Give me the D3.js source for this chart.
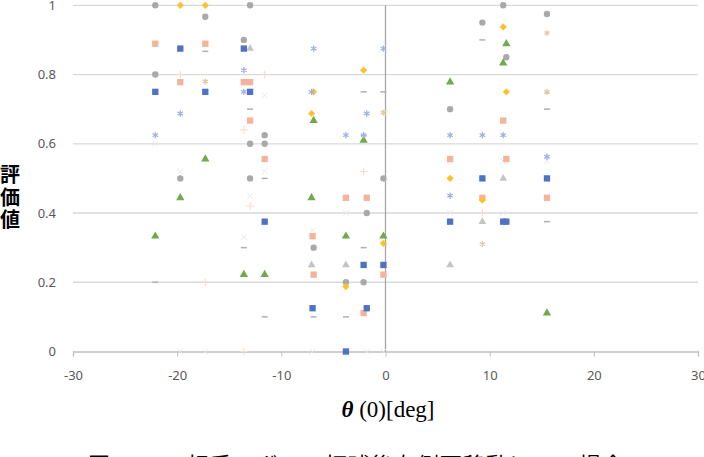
<!DOCTYPE html>
<html lang="ja">
<head>
<meta charset="utf-8">
<title>評価値 scatter</title>
<script src="https://cdn.jsdelivr.net/npm/d3@7"></script>
<style>
  body { margin: 0; background: #fff; overflow: hidden; }
  .tick text { font-family: "Noto Sans", "DejaVu Sans", sans-serif; font-size: 13px; fill: #595959; }
  .ylab { font-family: "Noto Sans CJK JP", sans-serif; font-size: 20px; font-weight: bold; fill: #000; }
  .xlab { font-family: "Liberation Serif", serif; font-size: 23px; fill: #000; }
  .cap { font-family: "Noto Sans CJK JP", sans-serif; font-size: 22px; fill: #000; letter-spacing: 1px; }
</style>
</head>
<body>
<script>
// data: [theta, value] per series
var blueSquares = [[-22.1,0.75],[-19.7,0.875],[-17.3,0.75],[-13.6,0.875],[-13.0,0.75],[-11.6,0.375],
  [-7.0,0.125],[-3.8,0],[-2.1,0.25],[-1.8,0.125],[-0.2,0.25],[6.2,0.375],[9.3,0.5],[11.3,0.375],[11.6,0.375],[15.5,0.5]];
var salmonSquares = [[-22.1,0.889],[-19.7,0.778],[-17.3,0.889],[-13.6,0.778],[-13.0,0.778],[-13.0,0.667],
  [-11.6,0.556],[-7.0,0.333],[-6.9,0.222],[-3.8,0.444],[-1.8,0.444],[-2.1,0.111],[-0.2,0.222],
  [6.2,0.556],[9.3,0.444],[11.3,0.667],[11.6,0.556],[15.5,0.444]];
var grayCircles = [[-22.1,1.0],[-22.1,0.8],[-17.3,0.967],[-19.7,0.5],[-13.0,1.0],[-13.6,0.9],[-13.0,0.6],
  [-11.6,0.6],[-11.6,0.625],[-13.0,0.5],[-6.9,0.3],[-3.8,0.2],[-2.1,0.2],[-1.8,0.4],[-0.2,0.5],
  [6.2,0.7],[9.3,0.95],[11.3,1.0],[11.6,0.85],[15.5,0.975]];
var goldDiamonds = [[-19.7,1.0],[-17.3,1.0],[-2.1,0.8125],[-7.1,0.6875],[-6.9,0.75],[-0.2,0.3125],
  [-3.8,0.1875],[6.2,0.5],[9.3,0.4375],[11.3,0.9375],[11.6,0.75]];
var blueStars = [[-19.7,0.6875],[-22.1,0.625],[-13.6,0.8125],[-13.6,0.75],[-6.9,0.875],[-0.2,0.875],
  [-7.1,0.75],[-1.8,0.6875],[-3.8,0.625],[-2.1,0.625],[6.2,0.625],[9.3,0.625],[11.3,0.625],[15.5,0.5625],[6.2,0.45]];
var greenTriangles = [[-17.3,0.556],[-19.7,0.444],[-22.1,0.333],[-6.9,0.667],[-2.1,0.61],[-7.1,0.444],
  [-3.8,0.333],[-0.2,0.333],[-13.6,0.222],[-11.6,0.222],[6.2,0.778],[11.6,0.889],[11.3,0.833],[15.5,0.111]];
var grayDashes = [[-17.3,0.867],[-22.1,0.2],[-13.0,0.7],[-11.6,0.5],[-2.1,0.75],[-0.2,0.75],[9.3,0.9],
  [15.5,0.7],[-13.6,0.3],[-2.1,0.3],[-11.6,0.1],[-6.9,0.1],[-3.8,0.1],[15.5,0.375],[-2.1,0.625]];
var grayTriangles = [[-7.1,0.25],[-3.8,0.25],[6.2,0.25],[-13.0,0.875],[11.3,0.5],[9.3,0.375]];
var tanStars = [[15.5,0.75],[-17.3,0.78],[9.3,0.31],[15.5,0.92],[-0.2,0.69]];
var faintPlus = [[-19.7,0.8],[-17.3,0.2],[-11.6,0.8],[-13.6,0.64],[-2.1,0.52],[9.3,0.4],[-13.6,0],[-13.0,0.42]];
var faintX = [[-22.1,0.6],[-19.7,0.52],[-11.6,0.52],[-13.0,0.45],[-13.6,0.33],[-7.0,0.35],[-3.8,0.4],
  [6.2,0.4],[11.3,0.4],[6.2,0.55],[11.3,0.55],[15.5,0.55],[-7.0,0],[-1.8,0],[-0.2,0],[-19.7,0],[-17.3,0],[-11.6,0.74]];

var xTicks = [-30,-20,-10,0,10,20,30];
var yTicks = [0,0.2,0.4,0.6,0.8,1];

var w = 704, h = 457;
var plotLeft = 73, plotRight = 698, plotTop = 5.3, plotBottom = 351.5;

var svg = d3.select("body").append("svg").attr("width", w).attr("height", h);

var x = d3.scaleLinear().domain([-30,30]).range([plotLeft,plotRight]);
var y = d3.scaleLinear().domain([0,1]).range([plotBottom,plotTop]);

// gridlines
svg.append("g").selectAll("line").data(yTicks.filter(function(d){return d>0;})).enter().append("line")
  .attr("x1", plotLeft).attr("x2", plotRight)
  .attr("y1", function(d){return y(d);}).attr("y2", function(d){return y(d);})
  .style("stroke","#d9d9d9").style("stroke-width",1.3);

// y axis (labels only)
var yAxis = svg.append("g").attr("transform","translate(" + plotLeft + ",0)")
  .call(d3.axisLeft(y).tickValues(yTicks).tickSize(0).tickPadding(17)
    .tickFormat(function(d){return String(+d.toFixed(1));}));
yAxis.select(".domain").remove();

// x axis at y=0
var xAxis = svg.append("g").attr("transform","translate(0," + plotBottom + ")")
  .call(d3.axisBottom(x).tickValues(xTicks).tickSize(5).tickPadding(14)
    .tickFormat(function(d){return String(d);}));
xAxis.select(".domain").style("stroke","#bfbfbf").style("stroke-width",1.3);
xAxis.selectAll(".tick line").style("stroke","#bfbfbf");

// vertical axis at theta = 0
svg.append("line").attr("x1", x(0)).attr("x2", x(0)).attr("y1", plotTop).attr("y2", plotBottom)
  .style("stroke","#a6a6a6").style("stroke-width",1.3);

// symbols
var dashType = { draw: function(ctx, size) { var r = Math.sqrt(size) * 0.6; ctx.moveTo(-r, 0); ctx.lineTo(r, 0); } };
var rhombType = { draw: function(ctx, size) { var r = Math.sqrt(size) * 0.72; ctx.moveTo(0,-r); ctx.lineTo(r,0); ctx.lineTo(0,r); ctx.lineTo(-r,0); ctx.closePath(); } };

function plot(data, type, size, fill, stroke, sw) {
  var gen = d3.symbol().type(type).size(size);
  svg.append("g").selectAll("path").data(data).enter().append("path")
    .attr("d", gen())
    .attr("transform", function(d){ return "translate(" + x(d[0]) + "," + y(d[1]) + ")"; })
    .style("fill", fill)
    .style("stroke", stroke || "none")
    .style("stroke-width", sw || 1);
}

plot(faintX, d3.symbolTimes, 22, "none", "#e3e9f5", 1);
plot(faintPlus, d3.symbolPlus, 22, "none", "#f9d9cb", 1);
plot(tanStars, d3.symbolAsterisk, 26, "none", "#e2c9a0", 1.3);
plot(grayDashes, dashType, 25, "none", "#b0b0b0", 1.5);
plot(grayTriangles, d3.symbolTriangle, 26, "#c4c4c4");
plot(salmonSquares, d3.symbolSquare, 40, "#f4b49c");
plot(grayCircles, d3.symbolCircle, 32, "#a9a9a9");
plot(blueSquares, d3.symbolSquare, 40, "#4f72c4");
plot(goldDiamonds, rhombType, 25, "#ffc02a");
plot(greenTriangles, d3.symbolTriangle, 30, "#6fab4a");
plot(blueStars, d3.symbolAsterisk, 28, "none", "#9fb3e2", 1.3);

// axis titles
var yl = svg.append("text").attr("class","ylab").attr("text-anchor","middle");
["評","価","値"].forEach(function(c, i) {
  yl.append("tspan").attr("x", 10).attr("y", 182 + i * 22.5).text(c);
});

var xl = svg.append("text").attr("class","xlab").attr("x", 388).attr("y", 417).attr("text-anchor","middle");
xl.append("tspan").style("font-weight","bold").style("font-style","italic").text("θ");
xl.append("tspan").text(" (0)[deg]");

// caption, cut off by the page bottom
svg.append("text").attr("class","cap").attr("x", 88).attr("y", 473)
  .text("図 4.12　相手のボール打球後右側面移動にTMT場合");
</script>
</body>
</html>
